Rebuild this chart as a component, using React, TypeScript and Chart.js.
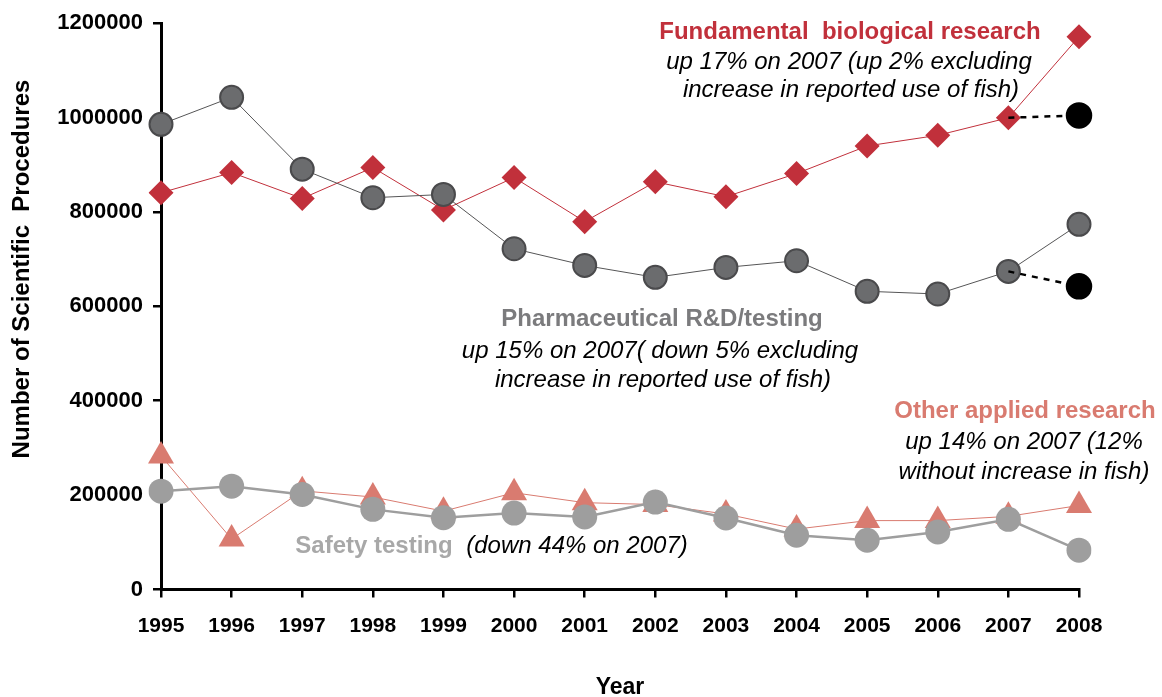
import React, { useEffect, useRef } from "react";
import { Chart, registerables } from "chart.js";

Chart.register(...registerables);

const years = ["1995", "1996", "1997", "1998", "1999", "2000", "2001", "2002", "2003", "2004", "2005", "2006", "2007", "2008"];
const fundamental = [840700, 883500, 828700, 894100, 804200, 873000, 779500, 863900, 832300, 881400, 939900, 962400, 999600, 1171300];
const pharmaceutical = [985700, 1043000, 890700, 830200, 837100, 722000, 686700, 661400, 682500, 696600, 631900, 626200, 674100, 773800];
const otherApplied = [283000, 107000, 209000, 196000, 166000, 205000, 184000, 180000, 160000, 128000, 146000, 146000, 155000, 178000];
const safetyTesting = [208400, 219000, 201500, 169800, 152300, 162000, 153600, 185200, 151500, 115000, 104400, 121900, 148700, 83300];
const fundamentalExclFish = [null, null, null, null, null, null, null, null, null, null, null, null, 999600, 1004600];
const pharmaExclFish = [null, null, null, null, null, null, null, null, null, null, null, null, 674100, 642400];
const yTickValues = [0, 200000, 400000, 600000, 800000, 1000000, 1200000];

const FONT = "'Liberation Sans', Arial, Helvetica, sans-serif";
const RED = "#c1303b";
const DARK = "#6b6c6e";
const LIGHT = "#9e9e9e";
const SALMON = "#d97b70";

type Note = { text: string; x: number; y: number; color: string; weight: string; style: string; size: number };
const notes: Note[] = [
  { text: "Fundamental  biological research", x: 850, y: 32, color: RED, weight: "bold", style: "normal", size: 24 },
  { text: "up 17% on 2007 (up 2% excluding", x: 849, y: 62, color: "#000", weight: "normal", style: "italic", size: 24 },
  { text: "increase in reported use of fish)", x: 851, y: 90, color: "#000", weight: "normal", style: "italic", size: 24 },
  { text: "Pharmaceutical R&D/testing", x: 662, y: 319, color: "#7b7b7d", weight: "bold", style: "normal", size: 24 },
  { text: "up 15% on 2007( down 5% excluding", x: 660, y: 351, color: "#000", weight: "normal", style: "italic", size: 24 },
  { text: "increase in reported use of fish)", x: 663, y: 380, color: "#000", weight: "normal", style: "italic", size: 24 },
  { text: "Other applied research", x: 1025, y: 411, color: SALMON, weight: "bold", style: "normal", size: 24 },
  { text: "up 14% on 2007 (12%", x: 1024, y: 442, color: "#000", weight: "normal", style: "italic", size: 24 },
  { text: "without increase in fish)", x: 1024, y: 472, color: "#000", weight: "normal", style: "italic", size: 24 },
  { text: "Safety testing", x: 374, y: 546, color: "#a8a8a8", weight: "bold", style: "normal", size: 24 },
  { text: "(down 44% on 2007)", x: 577, y: 546, color: "#000", weight: "normal", style: "italic", size: 24 },
];

const annotationPlugin = {
  id: "annotations",
  afterDraw(chart: any) {
    const ctx = chart.ctx;
    ctx.save();
    ctx.textAlign = "center";
    ctx.textBaseline = "middle";
    for (const n of notes) {
      ctx.font = `${n.style} ${n.weight} ${n.size}px ${FONT}`;
      ctx.fillStyle = n.color;
      ctx.fillText(n.text, n.x, n.y);
    }
    // y-axis title
    ctx.translate(22, 269);
    ctx.rotate(-Math.PI / 2);
    ctx.font = `bold 24px ${FONT}`;
    ctx.fillStyle = "#000";
    ctx.fillText("Number of Scientific  Procedures", 0, 0);
    ctx.restore();
  },
};

export default function App() {
  const ref = useRef<HTMLCanvasElement | null>(null);
  useEffect(() => {
    if (!ref.current) return;
    const last = years.length - 1;
    const chart = new Chart(ref.current, {
      type: "line",
      data: {
        labels: years,
        datasets: [
          {
            label: "Fundamental (excl. fish)",
            data: fundamentalExclFish,
            borderColor: "#000",
            borderWidth: 2.5,
            borderDash: [6, 6],
            backgroundColor: "#000",
            pointBackgroundColor: "#000",
            pointBorderColor: "#000",
            pointRadius: (c: any) => (c.dataIndex === last ? 12 : 0),
            pointStyle: "circle",
            order: 0,
          },
          {
            label: "Pharmaceutical (excl. fish)",
            data: pharmaExclFish,
            borderColor: "#000",
            borderWidth: 2.5,
            borderDash: [6, 6],
            backgroundColor: "#000",
            pointBackgroundColor: "#000",
            pointBorderColor: "#000",
            pointRadius: (c: any) => (c.dataIndex === last ? 12 : 0),
            pointStyle: "circle",
            order: 0,
          },
          {
            label: "Safety testing",
            data: safetyTesting,
            borderColor: LIGHT,
            borderWidth: 2.5,
            backgroundColor: LIGHT,
            pointBackgroundColor: LIGHT,
            pointBorderColor: LIGHT,
            pointBorderWidth: 0,
            pointRadius: 12.5,
            pointStyle: "circle",
            order: 1,
          },
          {
            label: "Pharmaceutical R&D/testing",
            data: pharmaceutical,
            borderColor: "#555556",
            borderWidth: 1,
            backgroundColor: DARK,
            pointBackgroundColor: DARK,
            pointBorderColor: "#4a4a4c",
            pointBorderWidth: 2,
            pointRadius: 11.5,
            pointStyle: "circle",
            order: 2,
          },
          {
            label: "Fundamental biological research",
            data: fundamental,
            borderColor: RED,
            borderWidth: 1,
            backgroundColor: RED,
            pointBackgroundColor: RED,
            pointBorderColor: RED,
            pointBorderWidth: 0,
            pointRadius: 12.5,
            pointStyle: "rectRot",
            order: 3,
          },
          {
            label: "Other applied research",
            data: otherApplied,
            borderColor: SALMON,
            borderWidth: 1,
            backgroundColor: SALMON,
            pointBackgroundColor: SALMON,
            pointBorderColor: SALMON,
            pointBorderWidth: 0,
            pointRadius: 15,
            pointStyle: "triangle",
            order: 4,
          },
        ],
      },
      options: {
        responsive: true,
        maintainAspectRatio: false,
        animation: false,
        layout: { padding: { top: 21, right: 83, left: 0, bottom: 0 } },
        plugins: {
          legend: { display: false },
          tooltip: { enabled: false },
        },
        elements: { line: { tension: 0 } },
        scales: {
          x: {
            type: "category",
            offset: false,
            grid: {
              display: true,
              drawOnChartArea: false,
              drawTicks: true,
              tickLength: 8,
              color: "#000",
              lineWidth: 2.5,
            },
            border: { display: true, color: "#000", width: 3 },
            ticks: {
              color: "#000",
              font: { family: FONT, size: 21, weight: "bold" },
              padding: 16,
              maxRotation: 0,
              autoSkip: false,
            },
            title: {
              display: true,
              text: "Year",
              color: "#000",
              font: { family: FONT, size: 23, weight: "bold" },
              padding: { top: 38, bottom: -4 },
            },
            afterFit: (s: any) => {
              s.height = 107.5;
            },
          },
          y: {
            min: 0,
            max: 1200000,
            afterBuildTicks: (s: any) => {
              s.ticks = yTickValues.map((v) => ({ value: v }));
            },
            grid: {
              display: true,
              drawOnChartArea: false,
              drawTicks: true,
              tickLength: 8,
              color: "#000",
              lineWidth: 2.5,
            },
            border: { display: true, color: "#000", width: 3 },
            ticks: {
              color: "#000",
              font: { family: FONT, size: 22, weight: "bold" },
              padding: 10,
              callback: (v: any) => String(v),
            },
            afterFit: (s: any) => {
              s.width = 161;
            },
          },
        },
      },
      plugins: [annotationPlugin],
    } as any);
    return () => chart.destroy();
  }, []);

  return (
    <div style={{ position: "fixed", left: 0, top: 0, width: 1162, height: 697, background: "#fff" }}>
      <canvas ref={ref} />
    </div>
  );
}
